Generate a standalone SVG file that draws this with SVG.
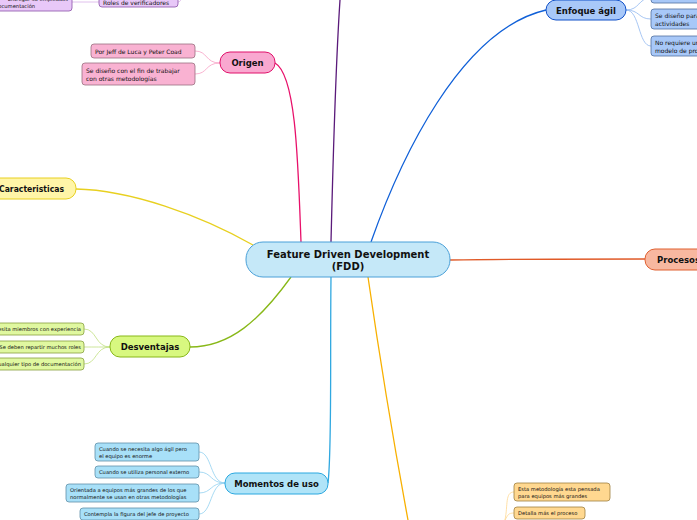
<svg xmlns="http://www.w3.org/2000/svg" width="697" height="520" viewBox="0 0 697 520">
<style>
text{font-family:"DejaVu Sans","Liberation Sans",sans-serif;fill:#111}
.main{font-weight:bold;font-size:8.5px;text-anchor:middle}
.c{font-size:6px}
.s{font-size:5.2px}
.con{fill:none}
</style>
<rect width="697" height="520" fill="#ffffff"/>
<g id="connectors" class="con">
<path d="M301,242 C298,160 296,75 275,63" stroke="#e8106a" stroke-width="1.3"/>
<path d="M331,242 C333,160 336,60 340,0" stroke="#5a1a7a" stroke-width="1.3"/>
<path d="M371,242 C400,160 460,30 546,10" stroke="#1060d8" stroke-width="1.3"/>
<path d="M253,245 C200,215 130,190 76,189" stroke="#e8d020" stroke-width="1.3"/>
<path d="M450,260 C520,259 600,259 645,259" stroke="#e05a28" stroke-width="1.3"/>
<path d="M291,277 C260,320 230,347 190,347" stroke="#88b818" stroke-width="1.3"/>
<path d="M331,277 C330,360 332,450 328,483" stroke="#30a8e0" stroke-width="1.3"/>
<path d="M368,277 C380,360 395,450 408,520" stroke="#f8b000" stroke-width="1.3"/>
<g stroke="#f7a0c4" stroke-width="0.8">
<path d="M220,63 C205,63 208,51 195,51"/>
<path d="M220,63 C205,63 208,74 195,74"/>
</g>
<g stroke="#d8b0e8" stroke-width="0.8">
<path d="M72,2 L99,2"/>
<path d="M178,2 C181,2 181,-2 183,-4"/>
</g>
<g stroke="#c0e080" stroke-width="0.8">
<path d="M110,347 C95,347 97,329 84,329"/>
<path d="M110,347 C95,347 97,347 84,347"/>
<path d="M110,347 C95,347 97,364 84,364"/>
</g>
<g stroke="#90d0f0" stroke-width="0.8">
<path d="M225,483 C210,483 212,452 199,452"/>
<path d="M225,483 C210,483 212,472 199,472"/>
<path d="M225,483 C210,483 212,493 199,493"/>
<path d="M225,483 C210,483 212,514 199,514"/>
</g>
<g stroke="#90b8f0" stroke-width="0.8">
<path d="M626,10 C640,10 638,-2 651,-2"/>
<path d="M626,10 C640,10 638,19 651,19"/>
<path d="M626,10 C640,10 638,46 651,46"/>
</g>
<g stroke="#ffd890" stroke-width="0.8">
<path d="M505,520 C508,505 505,492 514,492"/>
<path d="M505,520 C508,515 508,513 514,513"/>
</g>
</g>
<g id="center">
<rect x="246" y="242" width="204" height="35" rx="17" fill="#c5e8f8" stroke="#4aa0d8" stroke-width="1"/>
<text x="348" y="257.5" style="font-weight:bold;font-size:10px;text-anchor:middle">Feature Driven Development</text>
<text x="348" y="270" style="font-weight:bold;font-size:10px;text-anchor:middle">(FDD)</text>
</g>
<g id="origen">
<rect x="220" y="52" width="55" height="21" rx="10" fill="#f9a8d0" stroke="#e0106a" stroke-width="1"/>
<text x="247.5" y="66" class="main">Origen</text>
</g>
<g id="origen-1">
<rect x="91" y="44" width="104" height="14" rx="3" fill="#f9b2d2" stroke="#9a7080" stroke-width="0.8"/>
<text x="95" y="53.5" class="c">Por Jeff de Luca y Peter Coad</text>
</g>
<g id="origen-2">
<rect x="82" y="63" width="113" height="22" rx="3" fill="#f9b2d2" stroke="#9a7080" stroke-width="0.8"/>
<text x="86" y="72.5" class="c">Se diseño con el fin de trabajar</text>
<text x="86" y="80.5" class="c">con otras metodologías</text>
</g>
<g id="top-left-1">
<rect x="-10" y="-12" width="82" height="23" rx="3" fill="#e8c8f8" stroke="#8a50a8" stroke-width="0.8"/>
<text x="68" y="1" class="s" text-anchor="end">Entregar su empleados</text>
<text x="-5" y="8" class="s">documentación</text>
</g>
<g id="top-left-2">
<rect x="99" y="-8" width="79" height="15" rx="3" fill="#e8c8f8" stroke="#8a50a8" stroke-width="0.8"/>
<text x="103" y="4.5" class="c">Roles de verificadores</text>
</g>
<g id="enfoque">
<rect x="546" y="0" width="80" height="20" rx="10" fill="#a8c8f8" stroke="#1050c8" stroke-width="1"/>
<text x="586" y="13.5" class="main">Enfoque ágil</text>
</g>
<g id="enfoque-1">
<rect x="651" y="-12" width="60" height="15" rx="3" fill="#a8c8f8" stroke="#5070a0" stroke-width="0.8"/>
</g>
<g id="enfoque-2">
<rect x="651" y="9" width="60" height="20" rx="3" fill="#a8c8f8" stroke="#5070a0" stroke-width="0.8"/>
<text x="655" y="17.5" class="c">Se diseño para</text>
<text x="655" y="25.5" class="c">actividades</text>
</g>
<g id="enfoque-3">
<rect x="651" y="36" width="60" height="20" rx="3" fill="#a8c8f8" stroke="#5070a0" stroke-width="0.8"/>
<text x="655" y="44.5" class="c">No requiere un</text>
<text x="655" y="52.5" class="c">modelo de proceso</text>
</g>
<g id="caracteristicas">
<rect x="-30" y="178" width="106" height="21" rx="10" fill="#fff5a8" stroke="#e8d020" stroke-width="1"/>
<text x="64" y="192" style="font-weight:bold;font-size:8.5px;text-anchor:end" textLength="65" lengthAdjust="spacingAndGlyphs">Caracteristicas</text>
</g>
<g id="procesos">
<rect x="645" y="249" width="70" height="21" rx="10" fill="#f8b8a0" stroke="#e06030" stroke-width="1"/>
<text x="657" y="263" class="main" style="text-anchor:start">Procesos</text>
</g>
<g id="desventajas">
<rect x="110" y="336" width="80" height="21" rx="10" fill="#d8f880" stroke="#88b818" stroke-width="1"/>
<text x="150" y="350" class="main">Desventajas</text>
</g>
<g id="desv-1">
<rect x="-20" y="323" width="104" height="12" rx="3" fill="#e0f8a0" stroke="#88a040" stroke-width="0.8"/>
<text x="81" y="331" class="s" text-anchor="end">Necesita miembros con experiencia</text>
</g>
<g id="desv-2">
<rect x="-20" y="341" width="104" height="12" rx="3" fill="#e0f8a0" stroke="#88a040" stroke-width="0.8"/>
<text x="81" y="349" class="s" text-anchor="end">Se deben repartir muchos roles</text>
</g>
<g id="desv-3">
<rect x="-20" y="358" width="104" height="12" rx="3" fill="#e0f8a0" stroke="#88a040" stroke-width="0.8"/>
<text x="81" y="366" class="s" text-anchor="end">Evita cualquier tipo de documentación</text>
</g>
<g id="momentos">
<rect x="225" y="473" width="103" height="21" rx="10" fill="#b0e4f8" stroke="#2aa8e0" stroke-width="1"/>
<text x="276.5" y="487" class="main">Momentos de uso</text>
</g>
<g id="mom-1">
<rect x="95" y="443" width="104" height="18" rx="3" fill="#a8e0f8" stroke="#6090a8" stroke-width="0.8"/>
<text x="99" y="450.5" class="s">Cuando se necesita algo ágil pero</text>
<text x="99" y="457.5" class="s">el equipo es enorme</text>
</g>
<g id="mom-2">
<rect x="95" y="466" width="104" height="12" rx="3" fill="#a8e0f8" stroke="#6090a8" stroke-width="0.8"/>
<text x="99" y="474" class="s">Cuando se utiliza personal externo</text>
</g>
<g id="mom-3">
<rect x="66" y="484" width="133" height="18" rx="3" fill="#a8e0f8" stroke="#6090a8" stroke-width="0.8"/>
<text x="70" y="491.5" class="s">Orientada a equipos más grandes de los que</text>
<text x="70" y="498.5" class="s">normalmente se usan en otras metodologías</text>
</g>
<g id="mom-4">
<rect x="80" y="508" width="119" height="12" rx="3" fill="#a8e0f8" stroke="#6090a8" stroke-width="0.8"/>
<text x="84" y="516" class="s">Contempla la figura del jefe de proyecto</text>
</g>
<g id="bottom-1">
<rect x="514" y="483" width="96" height="18" rx="3" fill="#ffd890" stroke="#a08040" stroke-width="0.8"/>
<text x="518" y="490.5" class="s">Esta metodología esta pensada</text>
<text x="518" y="497.5" class="s">para equipos más grandes</text>
</g>
<g id="bottom-2">
<rect x="514" y="507" width="71" height="12" rx="3" fill="#ffd890" stroke="#a08040" stroke-width="0.8"/>
<text x="518" y="515" class="s">Detalla más el proceso</text>
</g>
</svg>
